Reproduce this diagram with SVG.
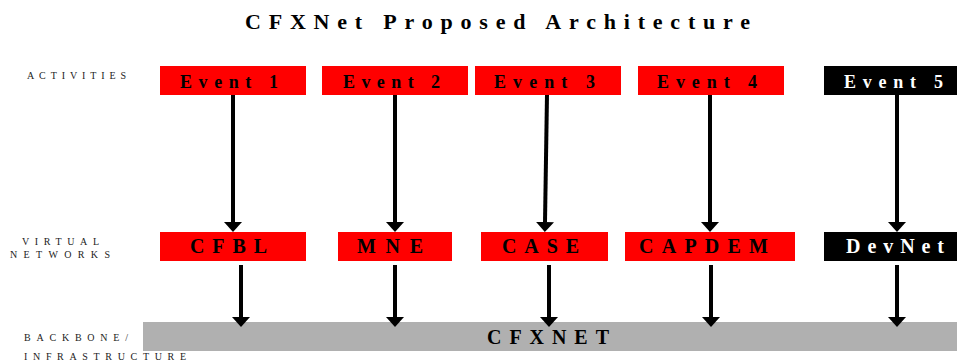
<svg xmlns="http://www.w3.org/2000/svg" width="957" height="363" viewBox="0 0 957 363">
<defs>
<style>
.red{fill:#ff0000}
.blk{fill:#000}
.bar{fill:#b0b0b0}
.t{font-family:"Liberation Serif","Times New Roman",serif;font-weight:bold;fill:#000}
.w{fill:#fff}
.lbl{font-family:"Liberation Serif","Times New Roman",serif;font-size:10px;fill:#222}
.ar{stroke:#000;stroke-width:4;fill:none;marker-end:url(#ah)}
</style>
<marker id="ah" markerUnits="userSpaceOnUse" viewBox="0 0 10 18" markerWidth="10" markerHeight="18" refX="0" refY="9" orient="auto">
<path d="M0,0 L10,9 L0,18 z" fill="#000"/>
</marker>
</defs>
<rect width="957" height="363" fill="#fff"/>
<text class="t" x="245" y="29" font-size="22" textLength="505" lengthAdjust="spacing">CFXNet Proposed Architecture</text>

<g id="labels">
<text class="lbl" x="27" y="79" textLength="99" lengthAdjust="spacing">ACTIVITIES</text>
<text class="lbl" x="22" y="245" textLength="77" lengthAdjust="spacing">VIRTUAL</text>
<text class="lbl" x="10" y="258" textLength="100" lengthAdjust="spacing">NETWORKS</text>
<text class="lbl" x="24" y="341" textLength="104" lengthAdjust="spacing">BACKBONE/</text>
<text class="lbl" x="24" y="360" textLength="162" lengthAdjust="spacing">INFRASTRUCTURE</text>
</g>

<g id="event1"><rect class="red" x="160" y="66" width="146" height="29"/><text class="t" x="180" y="88" font-size="18" textLength="98" lengthAdjust="spacing">Event 1</text></g>
<g id="event2"><rect class="red" x="322" y="66" width="146" height="29"/><text class="t" x="343" y="88" font-size="18" textLength="97" lengthAdjust="spacing">Event 2</text></g>
<g id="event3"><rect class="red" x="475" y="66" width="146" height="29"/><text class="t" x="494" y="88" font-size="18" textLength="101" lengthAdjust="spacing">Event 3</text></g>
<g id="event4"><rect class="red" x="638" y="66" width="146" height="29"/><text class="t" x="657" y="88" font-size="18" textLength="100" lengthAdjust="spacing">Event 4</text></g>
<g id="event5"><rect class="blk" x="824" y="66" width="140" height="29"/><text class="t w" x="844" y="88" font-size="18" textLength="99" lengthAdjust="spacing">Event 5</text></g>

<g id="cfbl"><rect class="red" x="160" y="232" width="146" height="29"/><text class="t" x="190" y="253" font-size="20" textLength="77" lengthAdjust="spacing">CFBL</text></g>
<g id="mne"><rect class="red" x="338" y="232" width="114" height="29"/><text class="t" x="357" y="253" font-size="20" textLength="66" lengthAdjust="spacing">MNE</text></g>
<g id="case"><rect class="red" x="481" y="232" width="127" height="29"/><text class="t" x="502" y="253" font-size="20" textLength="77" lengthAdjust="spacing">CASE</text></g>
<g id="capdem"><rect class="red" x="625" y="232" width="170" height="29"/><text class="t" x="639" y="253" font-size="20" textLength="129" lengthAdjust="spacing">CAPDEM</text></g>
<g id="devnet"><rect class="blk" x="824" y="232" width="140" height="29"/><text class="t w" x="846" y="253" font-size="20" textLength="98" lengthAdjust="spacing">DevNet</text></g>

<g id="cfxnet"><rect class="bar" x="143" y="322" width="820" height="29"/><text class="t" x="487" y="344" font-size="20" textLength="122" lengthAdjust="spacing">CFXNET</text></g>

<g id="connectors">
<line class="ar" x1="233" y1="95" x2="233" y2="222"/>
<line class="ar" x1="395" y1="95" x2="395" y2="222"/>
<line class="ar" x1="547" y1="95" x2="545" y2="222"/>
<line class="ar" x1="710" y1="95" x2="710" y2="222"/>
<line class="ar" x1="897" y1="95" x2="897" y2="222"/>
<line class="ar" x1="241" y1="265" x2="241" y2="317"/>
<line class="ar" x1="395" y1="265" x2="395" y2="317"/>
<line class="ar" x1="549" y1="265" x2="549" y2="317"/>
<line class="ar" x1="711" y1="265" x2="711" y2="317"/>
<line class="ar" x1="897" y1="265" x2="897" y2="317"/>
</g>
</svg>
